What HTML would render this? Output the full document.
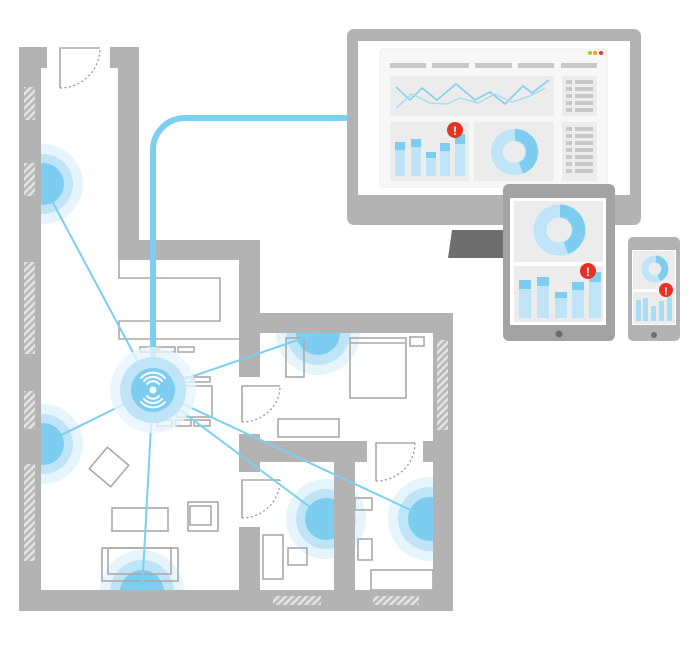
<!DOCTYPE html>
<html><head><meta charset="utf-8"><style>html,body{margin:0;padding:0;background:#fff;width:700px;height:649px;overflow:hidden}</style></head>
<body>
<svg width="700" height="649" viewBox="0 0 700 649" xmlns="http://www.w3.org/2000/svg">
<defs>
<pattern id="h" width="5" height="5" patternUnits="userSpaceOnUse" patternTransform="rotate(45)">
<rect width="5" height="5" fill="#e4e4e4"/><rect width="2.5" height="5" fill="#b8b8b8"/></pattern>
<clipPath id="room"><polygon points="41,47 118,47 118,260 239,260 239,333 433,333 433,590 41,590"/></clipPath>
</defs>
<!-- signal circles -->
<g clip-path="url(#room)">
<g fill="#e6f4fc"><circle cx="43" cy="184" r="40"/><circle cx="43" cy="444" r="40"/><circle cx="142" cy="592" r="42"/><circle cx="318" cy="333" r="42"/><circle cx="326" cy="519" r="40"/><circle cx="430" cy="519" r="42"/></g>
<g fill="#bfe4f8"><circle cx="43" cy="184" r="30"/><circle cx="43" cy="444" r="30"/><circle cx="142" cy="592" r="32"/><circle cx="318" cy="333" r="32"/><circle cx="326" cy="519" r="30"/><circle cx="430" cy="519" r="32"/></g>
<g fill="#7dcdf0"><circle cx="43" cy="184" r="21"/><circle cx="43" cy="444" r="21"/><circle cx="142" cy="592" r="22"/><circle cx="318" cy="333" r="22"/><circle cx="326" cy="519" r="21"/><circle cx="430" cy="519" r="22"/></g>
</g>
<!-- furniture outlines -->
<g fill="none" stroke="#aaa" stroke-width="1.6">
<path d="M119 260 V278 H220 V321 H119 V339 H239"/>
<rect x="140" y="347" width="17" height="5"/><rect x="159" y="347" width="16" height="5"/><rect x="178" y="347" width="16" height="5"/>
<rect x="177" y="377" width="15" height="5"/><rect x="194" y="377" width="16" height="5"/>
<rect x="177" y="386" width="35" height="31"/>
<rect x="157" y="420" width="15" height="6"/><rect x="175" y="420" width="16" height="6"/><rect x="194" y="420" width="16" height="6"/>
<rect x="286" y="338" width="18" height="39"/>
<rect x="350" y="338" width="56" height="60"/><line x1="350" y1="343" x2="406" y2="343"/>
<rect x="410" y="337" width="14" height="9"/>
<rect x="278" y="419" width="61" height="18"/>
<rect x="95" y="453" width="28" height="28" transform="rotate(40 109 467)"/>
<rect x="112" y="508" width="56" height="23"/>
<rect x="188" y="502" width="30" height="29"/><rect x="190" y="506" width="21" height="19"/>
<rect x="102" y="548" width="76" height="33"/><rect x="108" y="548" width="63" height="26"/>
<rect x="263" y="535" width="20" height="44"/><rect x="288" y="548" width="19" height="17"/>
<rect x="355" y="498" width="17" height="12"/><rect x="358" y="539" width="14" height="21"/>
<rect x="371" y="570" width="62" height="20"/>
<path d="M60 88 V48 H100"/>
<path d="M242 422 V386 H280"/><path d="M242 518 V480 H280"/><path d="M376 481 V443 H415"/>
</g>
<g fill="none" stroke="#999" stroke-width="1.3" stroke-dasharray="2 2.5">
<path d="M60 88 A40 40 0 0 0 100 48"/>
<path d="M242 422 A38 36 0 0 0 280 386"/><path d="M242 518 A38 38 0 0 0 280 480"/><path d="M376 481 A39 38 0 0 0 415 443"/>
</g>
<!-- walls -->
<g fill="#b3b3b3">
<rect x="19" y="47" width="22" height="564"/><rect x="19" y="47" width="28" height="21"/>
<rect x="110" y="47" width="29" height="21"/><rect x="118" y="47" width="21" height="213"/>
<rect x="118" y="240" width="142" height="20"/><rect x="239" y="240" width="21" height="137"/>
<rect x="239" y="313" width="214" height="20"/><rect x="433" y="313" width="20" height="298"/>
<rect x="19" y="590" width="434" height="21"/>
<rect x="239" y="434" width="21" height="38"/><rect x="239" y="441" width="128" height="21"/>
<rect x="239" y="527" width="21" height="63"/><rect x="334" y="441" width="21" height="149"/>
<rect x="423" y="441" width="30" height="21"/>
</g>
<g fill="url(#h)">
<rect x="24" y="87" width="11" height="33"/><rect x="24" y="163" width="11" height="33"/><rect x="24" y="262" width="11" height="92"/><rect x="24" y="391" width="11" height="38"/><rect x="24" y="464" width="11" height="97"/>
<rect x="437" y="340" width="11" height="90"/>
<rect x="273" y="596" width="48" height="9"/><rect x="373" y="596" width="46" height="9"/>
</g>
<!-- connections -->
<g stroke="#7ccfef" stroke-width="2" fill="none">
<line x1="153" y1="390" x2="43" y2="184"/><line x1="153" y1="390" x2="43" y2="444"/><line x1="153" y1="390" x2="142" y2="592"/>
<line x1="153" y1="390" x2="318" y2="333"/><line x1="153" y1="390" x2="326" y2="519"/><line x1="153" y1="390" x2="430" y2="519"/>
</g>
<path d="M153 390 V150 A32 32 0 0 1 185 118 H350" stroke="#7ccfef" stroke-width="6" fill="none"/>
<circle cx="153" cy="390" r="43" fill="#e6f4fc" opacity=".8"/><circle cx="153" cy="390" r="33" fill="#bfe4f8"/><circle cx="153" cy="390" r="22" fill="#7dcdf0"/>
<g stroke="#fff" stroke-width="2" fill="none" stroke-linecap="round">
<path d="M147 384 A8 8 0 0 1 159 384"/><path d="M144 381 A12 12 0 0 1 162 381"/><path d="M141 378 A16 16 0 0 1 165 378"/>
<path d="M147 396 A8 8 0 0 0 159 396"/><path d="M144 399 A12 12 0 0 0 162 399"/><path d="M141 402 A16 16 0 0 0 165 402"/>
</g><circle cx="153" cy="390" r="3.5" fill="#fff"/>
<!-- monitor -->
<path d="M448 258 L452 230 H505 V258 Z" fill="#6e6e6e"/>
<rect x="347" y="29" width="294" height="196" rx="7" fill="#b3b3b3"/>
<rect x="358" y="41" width="272" height="154" fill="#fff"/>
<rect x="380" y="49" width="227" height="138" rx="3" fill="#f7f7f7" stroke="#eee"/>
<circle cx="590" cy="53" r="2" fill="#9c3"/><circle cx="595" cy="53" r="2" fill="#f90"/><circle cx="601" cy="53" r="2" fill="#e33"/>
<g fill="#c8c8c8"><rect x="390" y="63" width="36" height="5"/><rect x="432" y="63" width="37" height="5"/><rect x="475" y="63" width="37" height="5"/><rect x="518" y="63" width="36" height="5"/><rect x="561" y="63" width="36" height="5"/></g>
<g fill="#ececec"><rect x="390" y="76" width="164" height="40"/><rect x="562" y="76" width="35" height="40"/><rect x="562" y="122" width="35" height="59"/><rect x="390" y="122" width="79" height="59"/><rect x="474" y="122" width="80" height="59"/></g>
<g fill="#c8c8c8">
<rect x="566" y="80" width="6" height="4"/><rect x="575" y="80" width="18" height="4"/><rect x="566" y="87" width="6" height="4"/><rect x="575" y="87" width="18" height="4"/><rect x="566" y="94" width="6" height="4"/><rect x="575" y="94" width="18" height="4"/><rect x="566" y="101" width="6" height="4"/><rect x="575" y="101" width="18" height="4"/><rect x="566" y="108" width="6" height="4"/><rect x="575" y="108" width="18" height="4"/>
<rect x="566" y="127" width="6" height="4"/><rect x="575" y="127" width="18" height="4"/><rect x="566" y="134" width="6" height="4"/><rect x="575" y="134" width="18" height="4"/><rect x="566" y="141" width="6" height="4"/><rect x="575" y="141" width="18" height="4"/><rect x="566" y="148" width="6" height="4"/><rect x="575" y="148" width="18" height="4"/><rect x="566" y="155" width="6" height="4"/><rect x="575" y="155" width="18" height="4"/><rect x="566" y="162" width="6" height="4"/><rect x="575" y="162" width="18" height="4"/><rect x="566" y="169" width="6" height="4"/><rect x="575" y="169" width="18" height="4"/>
</g>
<polyline points="396,87 410,100 422,88 437,100 456,84 475,100 490,92 505,104 523,86 532,93 549,80" fill="none" stroke="#7dcdf0" stroke-width="1.5"/>
<polyline points="396,108 412,94 430,103 447,104 460,98 478,103 495,94 512,102 530,96 545,88" fill="none" stroke="#a9dcf5" stroke-width="1.5"/>
<g>
<rect x="395" y="142" width="10" height="34" fill="#bfe4f8"/><rect x="395" y="142" width="10" height="8" fill="#7dcdf0"/>
<rect x="411" y="139" width="10" height="37" fill="#bfe4f8"/><rect x="411" y="139" width="10" height="8" fill="#7dcdf0"/>
<rect x="426" y="152" width="10" height="24" fill="#bfe4f8"/><rect x="426" y="152" width="10" height="6" fill="#7dcdf0"/>
<rect x="440" y="143" width="10" height="33" fill="#bfe4f8"/><rect x="440" y="143" width="10" height="8" fill="#7dcdf0"/>
<rect x="455" y="134" width="10" height="42" fill="#bfe4f8"/><rect x="455" y="134" width="10" height="10" fill="#7dcdf0"/>
</g>
<circle cx="514" cy="152" r="17" fill="none" stroke="#bfe4f8" stroke-width="12"/>
<path d="M515 135 A17 17 0 0 1 521 168" fill="none" stroke="#7dcdf0" stroke-width="12"/>
<circle cx="455" cy="130" r="8" fill="#e53223"/><text x="455" y="135" font-family="Liberation Sans,sans-serif" font-weight="bold" font-size="12" fill="#fff" text-anchor="middle">!</text>
<!-- tablet -->
<rect x="503" y="184" width="112" height="157" rx="6" fill="#a3a3a3"/>
<rect x="510" y="198" width="96" height="127" fill="#fff"/>
<rect x="514" y="201" width="89" height="61" fill="#ececec"/><rect x="514" y="266" width="89" height="56" fill="#ececec"/>
<circle cx="559" cy="230" r="19" fill="none" stroke="#bfe4f8" stroke-width="13"/>
<path d="M560 211 A19 19 0 0 1 566 248" fill="none" stroke="#7dcdf0" stroke-width="13"/>
<g>
<rect x="519" y="280" width="12" height="38" fill="#bfe4f8"/><rect x="519" y="280" width="12" height="9" fill="#7dcdf0"/>
<rect x="537" y="277" width="12" height="41" fill="#bfe4f8"/><rect x="537" y="277" width="12" height="9" fill="#7dcdf0"/>
<rect x="555" y="292" width="12" height="26" fill="#bfe4f8"/><rect x="555" y="292" width="12" height="6" fill="#7dcdf0"/>
<rect x="572" y="282" width="12" height="36" fill="#bfe4f8"/><rect x="572" y="282" width="12" height="8" fill="#7dcdf0"/>
<rect x="589" y="272" width="12" height="46" fill="#bfe4f8"/><rect x="589" y="272" width="12" height="10" fill="#7dcdf0"/>
</g>
<circle cx="588" cy="271" r="8" fill="#e53223"/><text x="588" y="276" font-family="Liberation Sans,sans-serif" font-weight="bold" font-size="12" fill="#fff" text-anchor="middle">!</text>
<circle cx="559" cy="334" r="3.5" fill="#6e6e6e"/>
<!-- phone -->
<rect x="628" y="237" width="52" height="104" rx="5" fill="#b3b3b3"/>
<rect x="632" y="250" width="44" height="75" fill="#fff"/>
<rect x="633" y="251" width="42" height="38" fill="#ececec"/><rect x="633" y="292" width="42" height="32" fill="#ececec"/>
<circle cx="655" cy="269" r="10" fill="none" stroke="#bfe4f8" stroke-width="7"/>
<path d="M656 259 A10 10 0 0 1 659 278" fill="none" stroke="#7dcdf0" stroke-width="7"/>
<g fill="#a9dcf5"><rect x="636" y="300" width="5" height="21"/><rect x="643" y="298" width="5" height="23"/><rect x="651" y="306" width="5" height="15"/><rect x="659" y="301" width="5" height="20"/><rect x="667" y="296" width="5" height="25"/></g>
<circle cx="666" cy="290" r="7" fill="#e53223"/><text x="666" y="295" font-family="Liberation Sans,sans-serif" font-weight="bold" font-size="11" fill="#fff" text-anchor="middle">!</text>
<circle cx="654" cy="335" r="3" fill="#6e6e6e"/>
</svg>
</body></html>
